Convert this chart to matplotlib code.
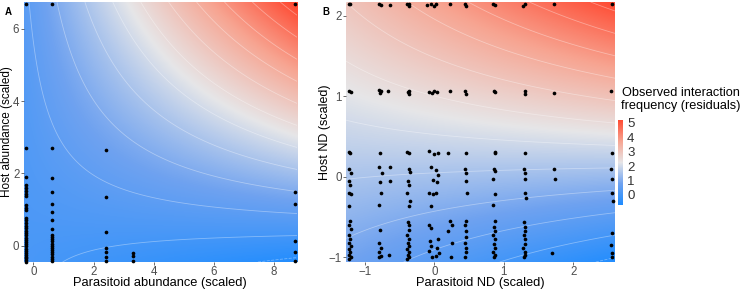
import numpy as np
import matplotlib
matplotlib.use("Agg")
import matplotlib.pyplot as plt
from matplotlib.colors import LinearSegmentedColormap, Normalize

plt.rcParams['font.family'] = ['Liberation Sans', 'DejaVu Sans']

# ---------------- fitted surfaces (corner values) ----------------
# panel A: parasitoid abundance (x) vs host abundance (y)
a_xlim = [-0.33, 8.76]
a_ylim = [-0.45, 6.74]
a_corners = [[0.1, -0.6],     # bottom-left, bottom-right
             [0.4, 5.3]]      # top-left, top-right

# panel B: parasitoid ND (x) vs host ND (y)
b_xlim = [-1.27, 2.6]
b_ylim = [-1.06, 2.17]
b_corners = [[0.8, -0.6],
             [3.0, 5.2]]

# ---------------- observed interactions (points) ----------------
a_x = ([-0.26] * 32 + [0.62] * 21 + [2.41] * 7 + [3.3] * 3 + [8.69] * 6)
a_y = [6.68, 2.69, 1.9, 1.68, 1.6, 1.5, 1.42, 1.37, 1.12, 1.05, 0.98,
       0.76, 0.7, 0.62, 0.55, 0.48, 0.42, 0.35, 0.3, 0.22, 0.15, 0.1,
       0.04, -0.02, -0.08, -0.14, -0.2, -0.25, -0.3, -0.35, -0.4, -0.44,
       6.68, 2.69, 1.88, 1.48, 1.15, 0.92, 0.7, 0.45, 0.3, 0.25, 0.18,
       0.12, 0.06, 0.0, -0.06, -0.12, -0.18, -0.24, -0.3, -0.36, -0.42,
       2.66, 1.34, 0.39, -0.06, -0.17, -0.3, -0.42,
       -0.2, -0.28, -0.42,
       6.68, 1.48, 1.15, 0.14, -0.17, -0.42]

b_x = [-1.23, -1.21, -1.22, -1.2, -1.22, -1.21, -1.22, -1.2, -1.23, -1.21, -1.22, -1.2, -1.22,
       -1.21, -1.23, -1.2, -1.22, -1.21, -1.23, -1.2, -1.22, -1.21, -1.23, -1.2, -1.22,
       -0.8, -0.76, -0.78, -0.8, -0.76, -0.78, -0.8, -0.75, -0.78, -0.77, -0.79, -0.78, -0.8,
       -0.77, -0.79, -0.76, -0.8,
       -0.64, -0.66, -0.63, -0.64, -0.65,
       -0.39, -0.36, -0.37, -0.38, -0.36, -0.37, -0.39, -0.36, -0.37, -0.35, -0.38, -0.37, -0.39,
       -0.35, -0.37, -0.38, -0.36, -0.37, -0.39, -0.36, -0.38, -0.37, -0.39, -0.36, -0.38, -0.37, -0.39,
       -0.1, -0.05, 0.0, 0.03, -0.08, -0.03, 0.0, 0.04, -0.07, 0.05, 0.0, -0.05, 0.02, 0.06, -0.02,
       0.04, -0.08, -0.02, 0.02, -0.05, -0.08, -0.05, -0.06, 0.05, -0.04, 0.04, -0.07, 0.07, -0.03, 0.02,
       0.23, 0.22, 0.2, 0.22, 0.25, 0.2, 0.25, 0.24,
       0.44, 0.46, 0.44, 0.46, 0.45, 0.44, 0.46, 0.45, 0.47, 0.45, 0.44, 0.46, 0.45, 0.44, 0.46, 0.45, 0.44,
       0.85, 0.88, 0.86, 0.88, 0.87, 0.88, 0.86, 0.88, 0.85, 0.88, 0.84, 0.88, 0.86, 0.87, 0.85, 0.88,
       0.86, 0.87, 0.85, 0.88, 0.86,
       1.3, 1.28, 1.3, 1.31, 1.3, 1.29, 1.31, 1.3, 1.3, 1.32, 1.29, 1.31, 1.3, 1.29, 1.31, 1.3, 1.28,
       1.3, 1.31, 1.29,
       1.72, 1.72, 1.72, 1.73, 1.7,
       2.55, 2.54, 2.55, 2.54, 2.56, 2.55, 2.57, 2.55, 2.54, 2.56, 2.55]
b_y = [2.14, 2.15, 1.06, 1.05, 0.31, 0.29, 0.1, 0.05, -0.05, -0.1, -0.2, -0.22, -0.36,
       -0.55, -0.6, -0.65, -0.72, -0.78, -0.82, -0.86, -0.9, -0.94, -0.97, -1.0, -1.02,
       2.14, 2.13, 1.04, 1.08, 1.06, 0.3, 0.12, 0.05, -0.07, -0.2, -0.35, -0.66, -0.82,
       -0.88, -0.93, -0.98, -1.0,
       2.13, 1.06, 0.12, -0.05, -0.97,
       2.14, 2.15, 2.12, 1.05, 1.07, 1.03, 0.31, 0.29, 0.1, 0.06, -0.05, -0.1, -0.2,
       -0.3, -0.36, -0.56, -0.6, -0.66, -0.72, -0.78, -0.82, -0.86, -0.9, -0.94, -0.97, -1.0, -1.02,
       2.13, 2.15, 2.12, 2.14, 1.05, 1.04, 1.07, 1.05, 0.32, 0.3, 0.28, 0.12, 0.08, 0.02, -0.04,
       -0.06, -0.2, -0.22, -0.2, -0.36, -0.6, -0.64, -0.8, -0.78, -0.86, -0.88, -0.92, -0.95, -1.0, -0.98,
       2.15, 1.06, 0.3, -0.55, -0.6, -0.68, -0.82, -1.0,
       2.14, 2.12, 1.06, 1.03, 0.3, 0.1, 0.05, -0.05, -0.2, -0.55, -0.6, -0.68, -0.75, -0.82, -0.88, -0.94, -1.0,
       2.14, 2.13, 1.06, 1.05, 0.31, 0.29, 0.1, 0.07, -0.03, -0.22, -0.35, -0.55, -0.62, -0.67, -0.72, -0.78,
       -0.84, -0.88, -0.93, -0.97, -1.0,
       2.14, 2.12, 1.06, 1.03, 0.3, 0.1, 0.05, -0.03, -0.2, -0.26, -0.56, -0.62, -0.67, -0.73, -0.78, -0.84, -0.88,
       -0.93, -0.97, -1.0,
       2.15, 1.04, 0.1, -0.03, -0.95,
       2.14, 1.06, 0.3, 0.1, -0.03, -0.2, -0.3, -0.7, -0.85, -0.95, -1.0]

# ---------------- colour scale ----------------
z_min, z_max = -0.7, 5.2
cmap = LinearSegmentedColormap.from_list(
    "resid", [(0.0, "#1E8CFF"), (0.25, "#6FA2F0"), (0.5, "#E6E6E8"),
              (0.75, "#F7A592"), (1.0, "#FF4B33")])
norm = Normalize(vmin=z_min, vmax=z_max)


def surface(xlim, ylim, corners, n=300):
    # bilinear (interaction) surface through the four corner values
    u = np.linspace(0, 1, n)
    U, V = np.meshgrid(u, u)
    c = np.array(corners)
    Z = (c[0, 0] * (1 - U) * (1 - V) + c[0, 1] * U * (1 - V)
         + c[1, 0] * (1 - U) * V + c[1, 1] * U * V)
    X = xlim[0] + U * (xlim[1] - xlim[0])
    Y = ylim[0] + V * (ylim[1] - ylim[0])
    return X, Y, Z


def draw_panel(ax, xlim, ylim, corners, px, py):
    X, Y, Z = surface(xlim, ylim, corners)
    im = ax.imshow(Z, origin="lower", extent=[xlim[0], xlim[1], ylim[0], ylim[1]],
                   cmap=cmap, norm=norm, aspect="auto", interpolation="bilinear")
    ax.contour(X, Y, Z, levels=np.arange(-1, 6, 0.5), colors="white",
               linewidths=0.6, alpha=0.35)
    ax.scatter(px, py, s=7, color="black", zorder=3, clip_on=False, linewidths=0)
    ax.set_xlim(xlim)
    ax.set_ylim(ylim)
    for s in ax.spines.values():
        s.set_visible(False)
    ax.tick_params(axis="both", colors="#333333", labelcolor="#4D4D4D",
                   labelsize=8.3, length=2, width=0.5, pad=1)
    return im


fig = plt.figure(figsize=(7.47, 2.91), dpi=100)
ax_a = fig.add_axes([23.5 / 747, 29 / 291, 273.5 / 747, 260 / 291])
ax_b = fig.add_axes([346 / 747, 29 / 291, 269 / 747, 260 / 291])
cax = fig.add_axes([618 / 747, 86 / 291, 5 / 747, 85 / 291])

draw_panel(ax_a, a_xlim, a_ylim, a_corners, a_x, a_y)
im = draw_panel(ax_b, b_xlim, b_ylim, b_corners, b_x, b_y)

ax_a.set_xticks([0, 2, 4, 6, 8])
ax_a.set_yticks([0, 2, 4, 6])
ax_b.set_xticks([-1, 0, 1, 2])
ax_b.set_yticks([-1, 0, 1, 2])

ax_a.set_xlabel("Parasitoid abundance (scaled)", fontsize=9.3)
ax_a.set_ylabel("Host abundance (scaled)", fontsize=8.5)
ax_b.set_xlabel("Parasitoid ND (scaled)", fontsize=9.3)
ax_b.set_ylabel("Host ND (scaled)", fontsize=9.0)
ax_a.xaxis.set_label_coords(0.5, -0.058)
ax_b.xaxis.set_label_coords(0.5, -0.058)
ax_a.yaxis.set_label_coords(-0.038, 0.5)
ax_b.yaxis.set_label_coords(-0.056, 0.5)

fig.text(5 / 747, 1 - 12 / 291, "A", fontsize=7, fontweight="bold", va="center")
fig.text(322 / 747, 1 - 12 / 291, "B", fontsize=7, fontweight="bold", va="center")

# colour bar legend
cb = fig.colorbar(im, cax=cax, ticks=[0, 1, 2, 3, 4, 5])
cb.outline.set_visible(False)
cb.ax.tick_params(length=0, labelsize=9.5, labelcolor="#333333", pad=3)
fig.text(681 / 747, 1 - 99.5 / 291, "Observed interaction\nfrequency (residuals)",
         fontsize=9.2, ha="center", va="center", linespacing=1.0)

fig.savefig("out.png", dpi=100)
